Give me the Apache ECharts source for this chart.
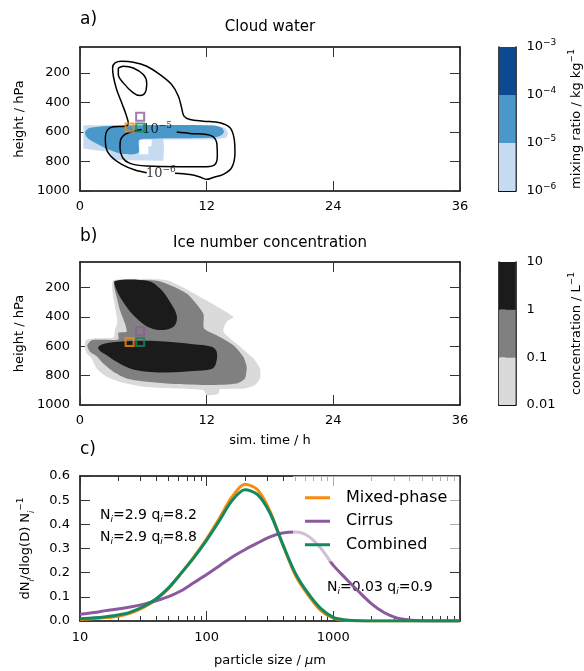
<!DOCTYPE html>
<html>
<head>
<meta charset="utf-8">
<script src="https://cdn.jsdelivr.net/npm/echarts@6/dist/echarts.min.js"></script>
<style>html,body{margin:0;padding:0;background:#fff;}#c{width:584px;height:671px;}</style>
</head>
<body>
<div id="c"></div>
<script>
// ---------------- data ----------------
const timeTicks = [0, 12, 24, 36];
const pressureTicks = [200, 400, 600, 800, 1000];

// Panel a: cloud water mixing ratio filled regions [time h, pressure hPa]
const cloudLight = [[0.32,554],[12.63,554],[13.74,572],[14.05,610],[13.83,640],[12.63,651],[7.9,651],[7.96,696],[7.9,795],[3.0,790],[2.84,734],[1.26,723],[0.32,712]];
const cloudMid = [[0.95,572],[4.42,556],[12.63,556],[13.42,572],[13.64,601],[13.26,628],[12.32,640],[6.79,646],[5.62,655],[5.53,741],[4.1,750],[2.84,723],[1.74,685],[0.79,646],[0.47,606]];
const cloudHole = [[5.62,655],[6.79,651],[6.79,696],[6.47,700],[6.47,752],[5.62,752]];
// Panel a: contour lines
const contourOuter = [[9.0,880],[10.42,889],[11.37,905],[12.0,921],[12.63,908],[13.58,887],[14.37,842],[14.68,741],[14.59,640],[14.21,572],[13.26,538],[11.68,527],[10.42,516],[9.85,493],[9.63,437],[9.32,358],[8.68,279],[7.58,212],[6.32,155],[5.05,128],[3.95,122],[3.32,133],[3.09,167],[3.16,223],[3.47,313],[3.95,403],[4.36,482],[4.58,543],[4.26,561],[3.16,565],[2.59,588],[2.4,640],[2.46,707],[2.9,763],[3.95,820],[5.21,858],[6.32,876]];
const contourUpper = [[3.63,167],[4.1,155],[5.05,167],[6.0,212],[6.32,268],[6.16,336],[5.68,354],[5.05,336],[4.1,268],[3.63,212],[3.63,167]];
const contourLower = [[9.16,601],[10.42,610],[12.0,617],[12.63,633],[12.95,673],[13.01,763],[12.79,820],[12.0,835],[9.47,835],[6.32,831],[4.74,813],[4.04,775],[3.79,707],[3.85,651],[4.26,617],[5.05,595],[5.84,583]];
const contourLabelPos = [[7.66,879],[7.3,582]];
const contourLabelExp = ['−6', '−5'];

// Panel b: ice number concentration filled regions
const iceLight = [[3.16,150],[8.21,150],[11.37,263],[14.53,399],[13.9,433],[13.58,501],[15.16,603],[16.42,682],[17.05,751],[17.05,819],[16.58,864],[15.63,887],[13.26,893],[13.1,925],[12.0,932],[11.68,898],[9.16,887],[6.0,875],[4.1,848],[2.53,807],[1.58,751],[1.11,683],[0.63,648],[0.47,603],[0.57,558],[1.26,546],[3.16,540],[3.32,490],[3.54,433],[3.32,331],[3.1,240]];
const iceMid = [[3.32,154],[7.42,154],[10.1,240],[11.68,376],[11.75,478],[12.95,524],[14.53,592],[15.47,671],[15.79,739],[15.63,819],[14.84,853],[12.32,864],[9.16,857],[6.32,841],[4.42,819],[3.16,773],[2.21,717],[1.58,667],[0.95,637],[0.69,592],[1.11,558],[3.63,553],[3.63,508],[4.42,501],[4.26,444],[3.79,354],[3.47,263],[3.25,195]];
const iceDarkUpper = [[3.32,154],[6.47,154],[7.58,206],[8.53,297],[9.16,388],[9.0,456],[8.21,485],[7.11,485],[6.16,456],[5.21,399],[4.42,331],[3.79,263],[3.41,206]];
const iceDarkLower = [[1.74,603],[2.37,580],[4.42,565],[7.58,565],[10.74,585],[12.47,603],[12.95,637],[12.88,717],[12.47,755],[10.74,769],[8.21,778],[6.32,773],[4.74,751],[3.47,705],[2.53,660],[1.83,626]];

// sample locations [time, pressure]
const sampleMixed = [[4.7,570]];
const sampleCirrus = [[5.7,497]];
const sampleCombined = [[5.7,570]];

// colorbars
const cbExpA = ['−6', '−5', '−4', '−3'];
const cbLabelsB = ['0.01', '0.1', '1', '10'];

// Panel c: size distributions (particle size in µm, dN/dlog(D) / N)
const sizeD = [10,13,16,20,25,32,40,50,63,79,100,126,158,200,251,316,398,501,631,794,1000,1259,1585,1995,2512,3162,3981,5012,6310,7943,10000];
const mixedPhase = [0.006,0.010,0.014,0.020,0.033,0.057,0.090,0.135,0.198,0.264,0.340,0.425,0.512,0.566,0.544,0.455,0.318,0.190,0.108,0.044,0.012,0.003,0.001,0,0,0,0,0,0,0,0];
const cirrus = [0.028,0.035,0.043,0.050,0.058,0.070,0.084,0.101,0.125,0.158,0.192,0.228,0.264,0.295,0.322,0.348,0.364,0.368,0.352,0.302,0.230,0.175,0.122,0.072,0.035,0.013,0.004,0.001,0,0,0];
const combined = [0.009,0.013,0.018,0.025,0.037,0.061,0.092,0.137,0.198,0.261,0.335,0.415,0.497,0.543,0.524,0.447,0.318,0.198,0.115,0.052,0.015,0.004,0.001,0,0,0,0,0,0,0,0];
const logMinor = [20,30,40,50,60,70,80,90,200,300,400,500,600,700,800,900,2000,3000,4000,5000,6000,7000,8000,9000];

// ---------------- styles ----------------
const FF = 'DejaVu Sans';
const ORANGE = '#f98a0b', PURPLE = '#8c5a9c', GREEN = '#108a5e';
const BLUES = ['#c6dbef', '#4a98c9', '#0b4a90'];
const GREYS = ['#dadada', '#808080', '#1b1b1b'];
const lineC = '#000';
const tickC = '#333';

const gA = {left:80, top:47, width:380, height:144};
const gB = {left:80, top:262, width:380, height:143};
const gC = {left:80, top:476, width:380, height:145};
const cA = {left:499, top:47, width:19, height:144};
const cB = {left:499, top:262, width:19, height:143};

function timeAxis(grid, pos, labels, name) {
  return {
    type:'value', gridIndex:grid, position:pos, min:0, max:36, interval:12,
    axisLine:{show:true, onZero:false, lineStyle:{color:lineC, width:1.5}},
    axisTick:{show:true, inside:true, length:10, lineStyle:{color:tickC, width:1}},
    axisLabel:{show:labels, margin:9, fontSize:13, fontFamily:FF, color:'#000', formatter:v => String(v)},
    splitLine:{show:false},
    name: name || '', nameLocation:'middle', nameGap:29,
    nameTextStyle:{fontSize:13, fontFamily:FF, color:'#000'}
  };
}
function presAxis(grid, pos, labels, name) {
  return {
    type:'value', gridIndex:grid, position:pos, inverse:true, min:25, max:1000,
    axisLine:{show:true, onZero:false, lineStyle:{color:lineC, width:1.5}},
    axisTick:{show:true, inside:true, length:10, customValues:pressureTicks, lineStyle:{color:tickC, width:1}},
    axisLabel:{show:labels, customValues:pressureTicks, margin:10, fontSize:13, fontFamily:FF, color:'#000', formatter:v => String(v)},
    splitLine:{show:false},
    name: name || '', nameLocation:'middle', nameGap:52, nameRotate:90,
    nameTextStyle:{fontSize:13, fontFamily:FF, color:'#000'}
  };
}
function logAxis(pos, major, labels, name) {
  return {
    type:'log', logBase:10, gridIndex:2, position:pos, min:10, max:10000,
    axisLine:{show:major, onZero:false, lineStyle:{color:lineC, width:1.5}},
    axisTick:major ? {show:true, inside:true, length:10, lineStyle:{color:tickC, width:1}}
                   : {show:true, inside:true, length:5, customValues:logMinor, lineStyle:{color:tickC, width:1}},
    axisLabel:{show:labels, margin:10, fontSize:13, fontFamily:FF, color:'#000',
      formatter: v => (v >= 10000 ? '' : String(Math.round(v)))},
    splitLine:{show:false}, minorTick:{show:false},
    name: name || '', nameLocation:'middle', nameGap:33,
    nameTextStyle:{fontSize:13, fontFamily:FF, color:'#000', rich:{
      t:{fontSize:13, fontFamily:FF}, m:{fontSize:13, fontFamily:FF, fontStyle:'italic'}}}
  };
}
function cbX(grid, pos) {
  return {type:'category', gridIndex:grid, position:pos, data:['c'], boundaryGap:true,
    axisLine:{show:true, lineStyle:{color:lineC, width:1.5}}, axisTick:{show:false}, axisLabel:{show:false}};
}
function cbY(grid, pos, labels, fmt, name, gap) {
  return {type:'value', gridIndex:grid, position:pos, min:0, max:3, interval:1,
    axisLine:{show:true, lineStyle:{color:lineC, width:1.5}},
    axisTick:{show:labels, inside:true, length:10, customValues:[1,2], lineStyle:{color:tickC, width:1}},
    axisLabel:{show:labels, margin:11, fontSize:13, fontFamily:FF, color:'#000', formatter:fmt,
      rich:{b:{fontSize:13, fontFamily:FF, color:'#000'}, e:{fontSize:9, fontFamily:FF, color:'#000', verticalAlign:'top', lineHeight:18}}},
    splitLine:{show:false},
    name: name || '', nameLocation:'middle', nameRotate:90, nameGap:gap || 0,
    nameTextStyle:{fontSize:13, fontFamily:FF, color:'#000', rich:{
      t:{fontSize:13, fontFamily:FF, color:'#000'}, e:{fontSize:9, fontFamily:FF, color:'#000', verticalAlign:'top', lineHeight:18}}}
  };
}

function poly(xi, yi, pts, color, smooth, z) {
  return {type:'custom', xAxisIndex:xi, yAxisIndex:yi, clip:true, silent:true, z:z, data:[0],
    renderItem:(params, api) => ({type:'polygon', shape:{points:pts.map(p => api.coord(p)), smooth:smooth}, style:{fill:color}})};
}
function contour(pts) {
  return {type:'line', xAxisIndex:0, yAxisIndex:0, data:pts, smooth:0.35, symbol:'none', silent:true, z:5,
    lineStyle:{color:'#000', width:1.5}};
}
function sample(xi, yi, pts, color) {
  return {type:'scatter', xAxisIndex:xi, yAxisIndex:yi, data:pts, symbol:'rect', symbolSize:8, silent:true, z:8,
    itemStyle:{color:'rgba(0,0,0,0)', borderColor:color, borderWidth:2}};
}
function bars(xi, yi, colors, stack) {
  return colors.map(c => ({type:'bar', xAxisIndex:xi, yAxisIndex:yi, stack:stack, data:[1], barWidth:'100%', silent:true,
    itemStyle:{color:c}}));
}
function pairs(xs, ys) { return xs.map((x, i) => [x, ys[i]]); }
function sizeLine(name, ys, color) {
  return {name:name, type:'line', xAxisIndex:4, yAxisIndex:4, data:pairs(sizeD, ys), smooth:0.3,
    symbol:'none', showSymbol:false, lineStyle:{color:color, width:3}, itemStyle:{color:color}};
}

const subRich = (color) => ({
  n:{fontSize:14, fontFamily:FF, color:color, lineHeight:18},
  s:{fontSize:9, fontFamily:FF, fontStyle:'italic', color:color, verticalAlign:'bottom', lineHeight:14}
});

const option = {
  animation:false,
  backgroundColor:'#fff',
  grid:[
    Object.assign({containLabel:false}, gA),
    Object.assign({containLabel:false}, gB),
    Object.assign({containLabel:false}, gC),
    Object.assign({containLabel:false}, cA),
    Object.assign({containLabel:false}, cB)
  ],
  xAxis:[
    timeAxis(0, 'bottom', true),
    timeAxis(0, 'top', false),
    timeAxis(1, 'bottom', true, 'sim. time / h'),
    timeAxis(1, 'top', false),
    logAxis('bottom', true, true, '{t|particle size / }{m|μ}{t|m}'),
    logAxis('bottom', false, false),
    logAxis('top', true, false),
    logAxis('top', false, false),
    cbX(3, 'bottom'), cbX(3, 'top'),
    cbX(4, 'bottom'), cbX(4, 'top')
  ],
  yAxis:[
    presAxis(0, 'left', true, 'height / hPa'),
    presAxis(0, 'right', false),
    presAxis(1, 'left', true, 'height / hPa'),
    presAxis(1, 'right', false),
    {type:'value', gridIndex:2, position:'left', min:0, max:0.6, interval:0.1,
      axisLine:{show:true, onZero:false, lineStyle:{color:lineC, width:1.5}},
      axisTick:{show:true, inside:true, length:10, lineStyle:{color:tickC, width:1}},
      axisLabel:{margin:10, fontSize:13, fontFamily:FF, color:'#000', formatter:v => v.toFixed(1)},
      splitLine:{show:false},
      name:'{n|dN}{s|i}{n|/dlog(D) N}{s|i}{p|−1}', nameLocation:'middle', nameGap:44, nameRotate:90,
      nameTextStyle:{rich:{
        n:{fontSize:13, fontFamily:FF, color:'#000', lineHeight:16},
        s:{fontSize:8, fontFamily:FF, fontStyle:'italic', color:'#000', verticalAlign:'bottom', lineHeight:12},
        p:{fontSize:9, fontFamily:FF, color:'#000', verticalAlign:'top', lineHeight:20}}}},
    {type:'value', gridIndex:2, position:'right', min:0, max:0.6, interval:0.1,
      axisLine:{show:true, onZero:false, lineStyle:{color:lineC, width:1.5}},
      axisTick:{show:true, inside:true, length:10, lineStyle:{color:tickC, width:1}},
      axisLabel:{show:false}, splitLine:{show:false}},
    cbY(3, 'left', false),
    cbY(3, 'right', true, v => '{b|10}{e|' + cbExpA[Math.round(v)] + '}', '{t|mixing ratio / kg kg}{e|−1}', 52),
    cbY(4, 'left', false),
    cbY(4, 'right', true, v => cbLabelsB[Math.round(v)], 'concentration / L{e|−1}', 52)
  ],
  legend:{
    orient:'vertical', left:293, top:476, icon:'rect', itemWidth:25, itemHeight:3, itemGap:6,
    padding:[13, 12, 8, 12], backgroundColor:'rgba(255,255,255,0.6)',
    data:['Mixed-phase', 'Cirrus', 'Combined'],
    textStyle:{fontSize:16, fontFamily:FF, color:'#000', padding:[0,0,0,11], lineHeight:17.5}
  },
  series:[
    // panel a
    poly(0, 0, cloudLight, BLUES[0], 0, 1),
    poly(0, 0, cloudMid, BLUES[1], 0.3, 2),
    poly(0, 0, cloudHole, '#fff', 0, 3),
    contour(contourOuter),
    contour(contourUpper),
    contour(contourLower),
    {type:'scatter', xAxisIndex:0, yAxisIndex:0, data:contourLabelPos.map((p, i) => [p[0], p[1], contourLabelExp[i]]),
      symbolSize:0, silent:true, z:6,
      label:{show:true, position:'inside', formatter:p => '{b|10}{e|' + p.value[2] + '}',
        rich:{b:{fontSize:13, fontFamily:'DejaVu Serif', color:'#000'}, e:{fontSize:9, fontFamily:'DejaVu Serif', color:'#000', verticalAlign:'top', lineHeight:16}}}},
    sample(0, 0, sampleMixed, ORANGE),
    sample(0, 0, sampleCirrus, PURPLE),
    sample(0, 0, sampleCombined, GREEN),
    // panel b
    poly(2, 2, iceLight, GREYS[0], 0.2, 1),
    poly(2, 2, iceMid, GREYS[1], 0.2, 2),
    poly(2, 2, iceDarkUpper, GREYS[2], 0.35, 3),
    poly(2, 2, iceDarkLower, GREYS[2], 0.35, 3),
    sample(2, 2, sampleMixed, ORANGE),
    sample(2, 2, sampleCirrus, PURPLE),
    sample(2, 2, sampleCombined, GREEN),
    // panel c
    sizeLine('Mixed-phase', mixedPhase, ORANGE),
    sizeLine('Cirrus', cirrus, PURPLE),
    sizeLine('Combined', combined, GREEN),
    // colorbars
    ...bars(8, 6, BLUES, 'a'),
    ...bars(10, 8, GREYS, 'b')
  ],
  graphic:[
    {type:'text', x:80, y:20, style:{text:'a)', font:'17px "DejaVu Sans"', fill:'#000', verticalAlign:'middle'}},
    {type:'text', x:270, y:27, style:{text:'Cloud water', font:'15px "DejaVu Sans"', fill:'#000', align:'center', verticalAlign:'middle'}},
    {type:'text', x:80, y:237, style:{text:'b)', font:'17px "DejaVu Sans"', fill:'#000', verticalAlign:'middle'}},
    {type:'text', x:270, y:243, style:{text:'Ice number concentration', font:'15px "DejaVu Sans"', fill:'#000', align:'center', verticalAlign:'middle'}},
    {type:'text', x:80, y:450, style:{text:'c)', font:'17px "DejaVu Sans"', fill:'#000', verticalAlign:'middle'}},
    {type:'text', x:100, y:515, style:{text:'{n|N}{s|i}{n|=2.9 q}{s|i}{n|=8.2}', rich:subRich(ORANGE), verticalAlign:'middle'}},
    {type:'text', x:100, y:537, style:{text:'{n|N}{s|i}{n|=2.9 q}{s|i}{n|=8.8}', rich:subRich(GREEN), verticalAlign:'middle'}},
    {type:'text', x:327, y:587, style:{text:'{n|N}{s|i}{n|=0.03 q}{s|i}{n|=0.9}', rich:subRich(PURPLE), verticalAlign:'middle'}}
  ]
};

const chart = echarts.init(document.getElementById('c'), null, {renderer:'canvas'});
chart.setOption(option);
</script>
</body>
</html>
